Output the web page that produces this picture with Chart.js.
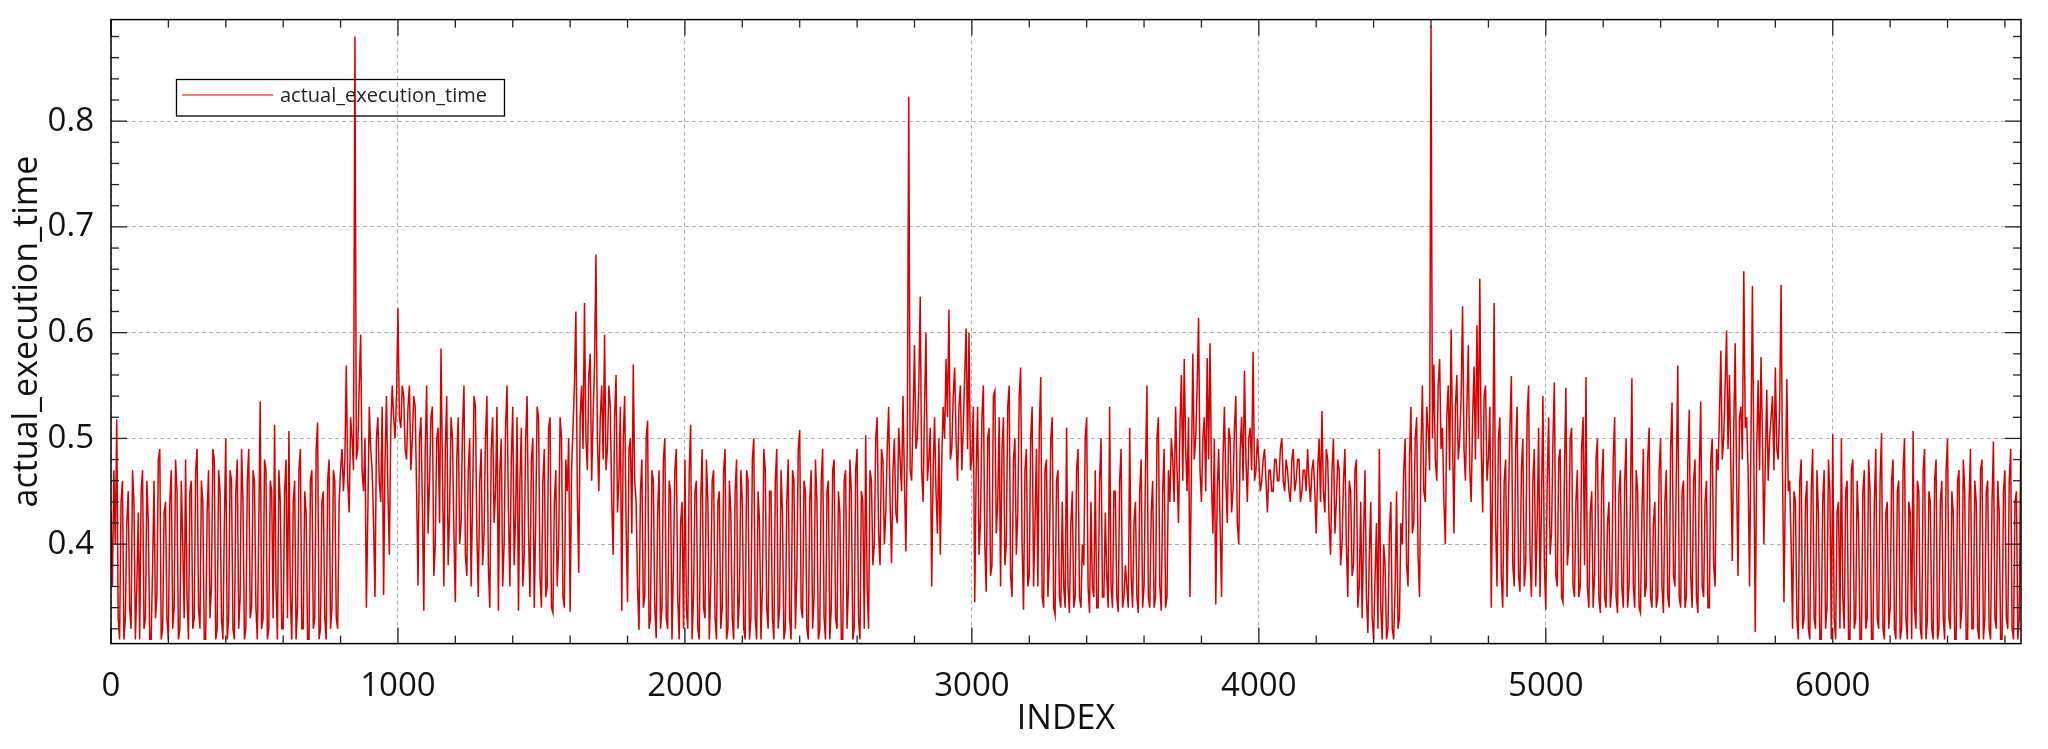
<!DOCTYPE html>
<html><head><meta charset="utf-8">
<script src="https://cdn.jsdelivr.net/npm/chart.js@4"></script>
<style>html,body{margin:0;padding:0;background:#fff;}canvas{display:block;}</style>
</head><body>
<canvas id="c" width="2048" height="749"></canvas>
<script>
const seriesName = 'actual_execution_time';
const xTitle = 'INDEX';
const sampleStep = 5;            // INDEX spacing between stored samples
const xTicks = [0, 1000, 2000, 3000, 4000, 5000, 6000];
const yTicks = [0.4, 0.5, 0.6, 0.7, 0.8];
const xRange = [0, 6656];
const yRange = [0.306, 0.896];

const values = [
// 0
0.43,0.36,0.47,0.40,0.518,0.33,0.31,0.44,0.46,0.31,0.33,0.42,0.45,0.34,0.32,0.47,0.44,0.31,0.36,0.43,
0.31,0.45,0.47,0.32,0.33,0.46,0.42,0.31,0.31,0.38,0.46,0.33,0.35,0.48,0.49,0.31,0.32,0.43,0.44,0.33,
0.31,0.44,0.47,0.32,0.34,0.48,0.45,0.31,0.32,0.46,0.40,0.33,0.48,0.35,0.31,0.45,0.46,0.32,0.33,0.47,
0.49,0.34,0.32,0.46,0.44,0.31,0.31,0.43,0.47,0.33,0.36,0.49,0.48,0.31,0.32,0.47,0.45,0.33,0.31,0.42,
0.50,0.31,0.33,0.47,0.46,0.32,0.31,0.45,0.48,0.32,0.35,0.49,0.44,0.31,0.32,0.46,0.49,0.33,0.34,0.47,
0.46,0.34,0.31,0.42,0.535,0.32,0.33,0.48,0.47,0.31,0.32,0.46,0.45,0.33,0.513,0.36,0.31,0.47,0.44,0.32,
0.32,0.45,0.48,0.33,0.507,0.35,0.31,0.44,0.46,0.31,0.34,0.47,0.49,0.32,0.32,0.45,0.43,0.31,0.31,0.46,
0.47,0.32,0.33,0.49,0.515,0.31,0.32,0.44,0.45,0.33,0.31,0.46,0.48,0.32,0.34,0.47,0.46,0.33,0.32,0.44,
// 800
0.47,0.49,0.45,0.48,0.569,0.46,0.43,0.52,0.50,0.47,0.88,0.48,0.49,0.55,0.598,0.47,0.45,0.50,0.34,0.43,
0.53,0.49,0.47,0.42,0.35,0.50,0.52,0.46,0.44,0.53,0.352,0.48,0.54,0.45,0.39,0.51,0.55,0.52,0.50,0.54,
0.623,0.52,0.51,0.55,0.54,0.49,0.48,0.53,0.55,0.47,0.50,0.54,0.53,0.45,0.361,0.50,0.52,0.44,0.337,0.49,
0.55,0.41,0.46,0.52,0.53,0.37,0.40,0.50,0.51,0.42,0.585,0.47,0.36,0.49,0.54,0.38,0.43,0.52,0.50,0.41,
0.345,0.48,0.52,0.40,0.42,0.51,0.55,0.39,0.37,0.47,0.50,0.36,0.44,0.54,0.53,0.41,0.35,0.46,0.49,0.38,
0.41,0.50,0.54,0.38,0.34,0.49,0.52,0.42,0.45,0.53,0.337,0.47,0.50,0.36,0.40,0.51,0.55,0.43,0.36,0.48,
0.53,0.38,0.43,0.52,0.337,0.46,0.51,0.36,0.39,0.50,0.54,0.41,0.35,0.48,0.50,0.34,0.42,0.53,0.52,0.37,
0.34,0.46,0.49,0.35,0.36,0.51,0.52,0.34,0.335,0.44,0.47,0.36,0.40,0.52,0.50,0.35,0.34,0.48,0.45,0.50,
// 1600
0.336,0.47,0.51,0.55,0.62,0.45,0.373,0.52,0.55,0.49,0.628,0.50,0.47,0.56,0.58,0.46,0.52,0.57,0.674,0.50,
0.45,0.52,0.55,0.48,0.598,0.47,0.49,0.55,0.53,0.44,0.39,0.52,0.56,0.43,0.46,0.53,0.337,0.50,0.54,0.42,
0.345,0.49,0.50,0.41,0.57,0.46,0.44,0.36,0.319,0.45,0.48,0.34,0.35,0.50,0.517,0.32,0.33,0.47,0.46,0.34,
0.311,0.43,0.47,0.32,0.34,0.48,0.50,0.33,0.32,0.46,0.45,0.31,0.38,0.47,0.49,0.35,0.31,0.42,0.44,0.32,
0.48,0.34,0.32,0.47,0.513,0.31,0.35,0.45,0.46,0.32,0.31,0.44,0.49,0.34,0.33,0.48,0.44,0.31,0.36,0.46,
0.47,0.33,0.31,0.44,0.45,0.32,0.34,0.47,0.49,0.31,0.32,0.46,0.43,0.33,0.31,0.45,0.48,0.32,0.35,0.47,
0.44,0.32,0.31,0.47,0.46,0.31,0.33,0.48,0.50,0.33,0.31,0.45,0.42,0.31,0.36,0.49,0.47,0.34,0.32,0.45,
0.45,0.33,0.31,0.46,0.49,0.32,0.34,0.47,0.43,0.31,0.32,0.44,0.48,0.33,0.31,0.47,0.46,0.32,0.37,0.49,
// 2400
0.508,0.34,0.33,0.46,0.45,0.32,0.31,0.44,0.47,0.32,0.35,0.48,0.44,0.31,0.32,0.46,0.49,0.33,0.31,0.45,
0.46,0.31,0.34,0.47,0.48,0.33,0.32,0.45,0.43,0.31,0.31,0.46,0.47,0.32,0.36,0.48,0.45,0.31,0.32,0.47,
0.49,0.33,0.31,0.45,0.44,0.32,0.503,0.36,0.32,0.47,0.46,0.38,0.40,0.50,0.52,0.41,0.38,0.49,0.48,0.40,
0.43,0.49,0.53,0.44,0.382,0.47,0.50,0.43,0.42,0.51,0.48,0.45,0.54,0.46,0.393,0.50,0.823,0.47,0.46,0.52,
0.588,0.49,0.50,0.55,0.634,0.47,0.44,0.53,0.60,0.46,0.48,0.51,0.36,0.47,0.52,0.45,0.41,0.50,0.39,0.48,
0.53,0.50,0.575,0.52,0.622,0.48,0.49,0.54,0.567,0.50,0.46,0.53,0.55,0.47,0.51,0.56,0.604,0.49,0.60,0.47,
0.48,0.53,0.345,0.47,0.53,0.39,0.42,0.52,0.55,0.40,0.355,0.50,0.51,0.37,0.38,0.54,0.545,0.41,0.44,0.52,
0.36,0.49,0.52,0.38,0.40,0.53,0.55,0.37,0.35,0.48,0.50,0.39,0.43,0.54,0.567,0.40,0.338,0.47,0.49,0.36,
// 3200
0.37,0.50,0.53,0.36,0.42,0.49,0.36,0.51,0.558,0.35,0.34,0.47,0.48,0.35,0.39,0.50,0.52,0.34,0.333,0.46,
0.47,0.35,0.34,0.44,0.36,0.34,0.51,0.36,0.335,0.42,0.45,0.34,0.35,0.47,0.49,0.35,0.34,0.40,0.38,0.50,
0.52,0.36,0.335,0.44,0.36,0.35,0.47,0.34,0.34,0.46,0.50,0.35,0.35,0.43,0.37,0.34,0.53,0.36,0.34,0.45,
0.45,0.35,0.336,0.46,0.49,0.34,0.35,0.38,0.36,0.34,0.51,0.37,0.34,0.42,0.44,0.35,0.335,0.45,0.48,0.34,
0.36,0.47,0.55,0.35,0.34,0.43,0.46,0.34,0.35,0.50,0.52,0.36,0.337,0.45,0.49,0.34,0.35,0.47,0.44,0.50,
0.48,0.44,0.53,0.47,0.42,0.51,0.56,0.46,0.575,0.49,0.45,0.52,0.35,0.47,0.58,0.48,0.50,0.55,0.614,0.47,
0.44,0.50,0.52,0.45,0.576,0.48,0.59,0.46,0.41,0.50,0.343,0.45,0.49,0.42,0.35,0.48,0.53,0.46,0.42,0.51,
0.50,0.43,0.45,0.51,0.54,0.42,0.40,0.49,0.52,0.46,0.564,0.48,0.44,0.50,0.51,0.47,0.582,0.46,0.47,0.50,
// 4000
0.48,0.45,0.46,0.48,0.49,0.46,0.43,0.47,0.47,0.45,0.45,0.48,0.48,0.46,0.46,0.49,0.50,0.46,0.45,0.48,
0.47,0.45,0.44,0.48,0.49,0.45,0.46,0.48,0.48,0.44,0.45,0.47,0.47,0.45,0.49,0.46,0.44,0.47,0.48,0.45,
0.41,0.47,0.50,0.44,0.526,0.45,0.43,0.49,0.48,0.42,0.39,0.47,0.50,0.41,0.44,0.48,0.47,0.38,0.40,0.46,
0.49,0.40,0.35,0.46,0.45,0.37,0.38,0.47,0.48,0.34,0.36,0.44,0.33,0.41,0.47,0.35,0.316,0.39,0.44,0.33,
0.31,0.37,0.42,0.32,0.49,0.34,0.31,0.40,0.38,0.31,0.32,0.41,0.44,0.32,0.31,0.36,0.45,0.32,0.33,0.42,
0.40,0.47,0.50,0.38,0.36,0.48,0.53,0.41,0.42,0.50,0.52,0.39,0.35,0.49,0.55,0.45,0.44,0.53,0.51,0.47,
0.89,0.50,0.57,0.48,0.46,0.55,0.575,0.49,0.51,0.44,0.40,0.52,0.55,0.47,0.603,0.50,0.41,0.53,0.56,0.48,
0.50,0.54,0.625,0.49,0.46,0.53,0.588,0.47,0.44,0.52,0.568,0.48,0.607,0.50,0.651,0.49,0.43,0.54,0.55,0.46,
// 4800
0.48,0.53,0.34,0.47,0.628,0.42,0.36,0.50,0.52,0.37,0.34,0.46,0.48,0.35,0.44,0.51,0.559,0.38,0.36,0.49,
0.53,0.37,0.355,0.47,0.50,0.36,0.38,0.52,0.55,0.39,0.35,0.46,0.49,0.36,0.42,0.51,0.35,0.44,0.54,0.38,
0.338,0.46,0.52,0.39,0.41,0.50,0.553,0.37,0.36,0.48,0.49,0.35,0.345,0.47,0.548,0.38,0.40,0.50,0.51,0.36,
0.35,0.44,0.47,0.35,0.36,0.49,0.52,0.38,0.558,0.36,0.34,0.43,0.45,0.34,0.37,0.48,0.50,0.35,0.335,0.46,
0.49,0.35,0.34,0.42,0.44,0.34,0.36,0.48,0.52,0.35,0.335,0.45,0.47,0.36,0.34,0.46,0.50,0.34,0.36,0.44,
0.557,0.36,0.34,0.47,0.45,0.34,0.335,0.43,0.49,0.35,0.36,0.48,0.51,0.35,0.34,0.42,0.44,0.34,0.35,0.47,
0.50,0.36,0.335,0.44,0.47,0.35,0.34,0.49,0.534,0.37,0.36,0.47,0.569,0.35,0.34,0.45,0.46,0.34,0.35,0.48,
0.527,0.37,0.34,0.46,0.48,0.35,0.335,0.47,0.535,0.36,0.35,0.44,0.46,0.34,0.34,0.48,0.50,0.38,0.36,0.49,
// 5600
0.47,0.52,0.583,0.48,0.50,0.55,0.602,0.49,0.56,0.47,0.384,0.51,0.59,0.46,0.37,0.52,0.53,0.48,0.658,0.51,
0.52,0.47,0.36,0.50,0.644,0.48,0.317,0.49,0.555,0.47,0.577,0.50,0.40,0.48,0.546,0.46,0.50,0.52,0.54,0.47,
0.567,0.49,0.48,0.53,0.645,0.47,0.345,0.46,0.556,0.45,0.46,0.40,0.32,0.45,0.44,0.33,0.31,0.46,0.48,0.32,
0.33,0.44,0.46,0.32,0.31,0.45,0.49,0.33,0.32,0.47,0.43,0.31,0.31,0.44,0.47,0.32,0.34,0.48,0.45,0.31,
0.504,0.33,0.31,0.43,0.44,0.32,0.50,0.35,0.32,0.45,0.46,0.31,0.31,0.47,0.48,0.32,0.33,0.46,0.42,0.31,
0.31,0.45,0.47,0.32,0.33,0.48,0.45,0.31,0.31,0.44,0.49,0.33,0.32,0.46,0.505,0.32,0.31,0.43,0.44,0.32,
0.34,0.46,0.48,0.32,0.31,0.45,0.46,0.31,0.32,0.47,0.50,0.33,0.31,0.44,0.43,0.31,0.507,0.34,0.32,0.46,
0.45,0.32,0.31,0.47,0.49,0.31,0.33,0.45,0.44,0.32,0.31,0.46,0.48,0.31,0.32,0.44,0.46,0.33,0.31,0.47,
// 6400
0.50,0.33,0.32,0.45,0.43,0.31,0.31,0.46,0.47,0.32,0.34,0.48,0.45,0.31,0.31,0.44,0.49,0.32,0.32,0.46,
0.44,0.32,0.31,0.47,0.48,0.31,0.33,0.45,0.46,0.32,0.31,0.44,0.497,0.33,0.32,0.46,0.43,0.31,0.31,0.45,
0.47,0.33,0.32,0.46,0.49,0.32,0.31,0.44,0.45,0.31,0.33,0.49
];

const points = values.map((v, i) => ({ x: i * sampleStep, y: v }));

const FONT = 'Open Sans';

const framePlugin = {
  id: 'frame',
  afterDatasetsDraw(chart) {
    const { ctx, chartArea: a, scales: { x, y } } = chart;
    ctx.save();
    ctx.strokeStyle = '#222';
    ctx.lineWidth = 1.3;
    const seg = (x1, y1, x2, y2) => { ctx.beginPath(); ctx.moveTo(x1, y1); ctx.lineTo(x2, y2); ctx.stroke(); };
    // x ticks (major 1000, minor 200)
    for (let v = xRange[0]; v <= xRange[1]; v += 200) {
      const px = x.getPixelForValue(v);
      const len = xTicks.includes(v) ? 16 : 8;
      seg(px, a.bottom, px, a.bottom - len);
      seg(px, a.top, px, a.top + len);
    }
    // y ticks (major 0.1, minor 0.02)
    for (let k = 16; k <= 44; k++) {
      const v = k / 50;
      const py = y.getPixelForValue(v);
      const major = yTicks.some(t => Math.abs(t - v) < 1e-9);
      const len = major ? 16 : 8;
      seg(a.left, py, a.left + len, py);
      seg(a.right, py, a.right - len, py);
    }
    ctx.lineWidth = 1.5;
    ctx.strokeStyle = '#000';
    ctx.strokeRect(a.left, a.top, a.right - a.left, a.bottom - a.top);
    // legend
    const ds = chart.data.datasets[0];
    ctx.lineWidth = 1.3;
    ctx.strokeRect(176.5, 79.5, 328, 36.5);
    ctx.strokeStyle = ds.borderColor;
    ctx.lineWidth = 1;
    seg(182, 95, 273, 95);
    ctx.fillStyle = '#222';
    ctx.font = '20px "' + FONT + '"';
    ctx.textBaseline = 'alphabetic';
    ctx.fillText(ds.label, 280, 102);
    ctx.restore();
  }
};

new Chart(document.getElementById('c'), {
  type: 'line',
  data: {
    datasets: [{
      label: seriesName,
      data: points,
      borderColor: 'rgb(214,0,0)',
      borderWidth: 1.5,
      pointRadius: 0,
      tension: 0,
      fill: false
    }]
  },
  options: {
    responsive: false,
    animation: false,
    events: [],
    layout: { padding: { left: 0, right: 27, top: 19.6, bottom: 0 } },
    plugins: { legend: { display: false }, tooltip: { enabled: false } },
    scales: {
      x: {
        type: 'linear',
        min: xRange[0], max: xRange[1],
        afterBuildTicks: s => { s.ticks = xTicks.map(v => ({ value: v })); },
        afterFit: s => { s.height = 105.4; s.paddingLeft = 0; s.paddingRight = 0; },
        ticks: { font: { family: FONT, size: 33 }, color: '#111', padding: 23, maxRotation: 0, autoSkip: false, callback: v => String(v) },
        grid: { color: '#b0b0b0', lineWidth: 1, drawTicks: false },
        border: { display: false, dash: [4, 3] },
        title: { display: true, text: xTitle, font: { family: FONT, size: 34 }, color: '#111', padding: { top: 0, bottom: 9 } }
      },
      y: {
        type: 'linear',
        min: yRange[0], max: yRange[1],
        afterBuildTicks: s => { s.ticks = yTicks.map(v => ({ value: v })); },
        afterFit: s => { s.width = 111; s.paddingTop = 0; s.paddingBottom = 0; },
        ticks: { font: { family: FONT, size: 33 }, color: '#111', padding: 17, autoSkip: false, callback: v => String(v) },
        grid: { color: '#b0b0b0', lineWidth: 1, drawTicks: false },
        border: { display: false, dash: [4, 3] },
        title: { display: true, text: seriesName, font: { family: FONT, size: 34 }, color: '#111', padding: { top: 7, bottom: 0 } }
      }
    }
  },
  plugins: [framePlugin]
});
</script>
</body></html>
